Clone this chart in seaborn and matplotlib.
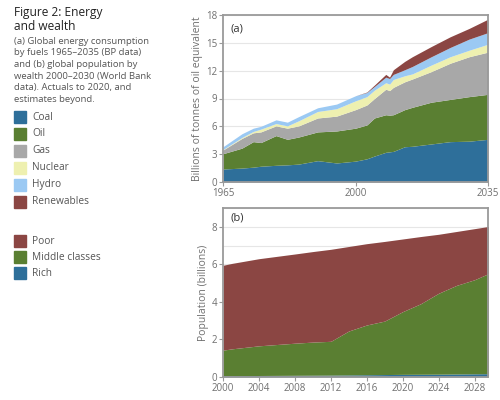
import numpy as np
import pandas as pd
import matplotlib
matplotlib.use('Agg')
import matplotlib.pyplot as plt
import seaborn as sns
from matplotlib.patches import Rectangle

sns.set_theme(style='white')
plt.rcParams['font.family'] = ['Open Sans', 'DejaVu Sans']

# (a) energy consumption by fuel, billions of tonnes of oil equivalent
years_a = [1965, 1970, 1973, 1975, 1979, 1982, 1985, 1990, 1995, 2000, 2003,
           2005, 2008, 2009, 2010, 2013, 2015, 2020, 2025, 2030, 2035]
coal = [1.4, 1.5, 1.6, 1.7, 1.8, 1.85, 1.93, 2.3, 2.05, 2.25, 2.5,
        2.8, 3.2, 3.25, 3.3, 3.8, 3.85, 4.1, 4.35, 4.4, 4.6]
oil = [1.65, 2.15, 2.75, 2.55, 3.2, 2.75, 2.92, 3.1, 3.45, 3.55, 3.65,
       4.1, 4.05, 3.95, 3.95, 4.0, 4.2, 4.5, 4.55, 4.8, 4.85]
gas = [0.4, 1.05, 0.95, 1.15, 1.05, 1.2, 1.2, 1.5, 1.6, 2.0, 2.15,
       2.1, 2.75, 2.65, 2.95, 3.0, 3.05, 3.3, 3.9, 4.3, 4.55]
nuclear = [0.05, 0.1, 0.15, 0.3, 0.25, 0.25, 0.55, 0.7, 0.8, 0.95, 0.9,
           0.9, 0.7, 0.7, 0.85, 0.65, 0.55, 0.7, 0.7, 0.7, 0.85]
hydro = [0.3, 0.4, 0.35, 0.3, 0.4, 0.4, 0.45, 0.4, 0.5, 0.55, 0.45,
         0.4, 0.6, 0.6, 0.55, 0.65, 0.8, 0.9, 1.0, 1.2, 1.25]
renewables = [0, 0, 0, 0, 0, 0, 0, 0, 0, 0, 0.05,
              0.15, 0.3, 0.15, 0.5, 0.9, 1.05, 1.1, 1.15, 1.15, 1.45]
fuels = ['Coal', 'Oil', 'Gas', 'Nuclear', 'Hydro', 'Renewables']
fuel_colors = ['#2e6f9a', '#5a7f32', '#a8a8a8', '#eef0b0', '#9bc9f3', '#8b4643']

# (b) population by wealth, billions
years_b = [2000, 2001, 2004, 2008, 2010, 2012, 2014, 2016, 2018, 2020, 2022,
           2024, 2026, 2028, 2030]
rich = [0.07, 0.07, 0.08, 0.09, 0.095, 0.1, 0.11, 0.12, 0.13, 0.14, 0.145,
        0.15, 0.16, 0.17, 0.18]
middle = [1.36, 1.43, 1.58, 1.71, 1.765, 1.8, 2.34, 2.65, 2.85, 3.34, 3.755,
          4.31, 4.72, 5.01, 5.42]
poor = [4.52, 4.55, 4.64, 4.75, 4.82, 4.9, 4.5, 4.33, 4.24, 3.87, 3.58,
        3.14, 2.87, 2.72, 2.45]
classes = ['Poor', 'Middle classes', 'Rich']
class_colors = ['#8b4643', '#5a7f32', '#2e6f9a']

df_a = pd.DataFrame({'Coal': coal, 'Oil': oil, 'Gas': gas, 'Nuclear': nuclear,
                     'Hydro': hydro, 'Renewables': renewables}, index=years_a)
df_b = pd.DataFrame({'Rich': rich, 'Middle classes': middle, 'Poor': poor},
                    index=years_b)

fig = plt.figure(figsize=(5, 4), dpi=100)
ax1 = fig.add_axes([0.446, 0.545, 0.53, 0.4175])
ax2 = fig.add_axes([0.446, 0.0575, 0.53, 0.4225])

grey = '#9a9a9a'
tick_col = '#6f6f6f'

ax1.stackplot(df_a.index, *[df_a[f] for f in fuels], colors=fuel_colors, lw=0)
ax1.set_xlim(1965, 2035)
ax1.set_ylim(0, 18)
ax1.set_yticks([0, 3, 6, 9, 12, 15, 18])
ax1.set_xticks([1965, 2000, 2035])
ax1.set_ylabel('Billions of tonnes of oil equivalent', color=tick_col, fontsize=7.5,
               labelpad=2)
ax1.text(0.03, 0.95, '(a)', transform=ax1.transAxes, fontsize=8, va='top',
         color='#333333')

ax2.stackplot(df_b.index, *[df_b[c] for c in ['Rich', 'Middle classes', 'Poor']],
              colors=class_colors[::-1], lw=0)
ax2.set_xlim(2000, 2029.5)
ax2.set_ylim(0, 9)
ax2.set_yticks([0, 2, 4, 6, 8])
ax2.set_yticks(range(0, 10), minor=True)
ax2.set_xticks(range(2000, 2029, 4))
ax2.set_ylabel('Population (billions)', color=tick_col, fontsize=7.5, labelpad=2)
ax2.text(0.03, 0.975, '(b)', transform=ax2.transAxes, fontsize=8, va='top',
         color='#333333')

for ax in (ax1, ax2):
    ax.set_axisbelow(True)
    ax.grid(axis='y', color='#e6e6e6', lw=0.8, which='both')
    for s in ax.spines.values():
        s.set_color(grey)
        s.set_linewidth(1.3)
    ax.tick_params(axis='both', colors=grey, labelcolor=tick_col, labelsize=7,
                   length=3, width=0.8, pad=1, which='major')
    ax.tick_params(axis='y', which='minor', length=0)
    ax.tick_params(axis='both', bottom=True, left=True)

# text panel on the left
fig.text(0.028, 0.985, 'Figure 2: Energy\nand wealth', fontsize=8.6,
         color='#222222', va='top', linespacing=1.15, fontweight='medium')
fig.text(0.028, 0.908, '(a) Global energy consumption\nby fuels 1965\u20132035 (BP data)\n'
         'and (b) global population by\nwealth 2000\u20132030 (World Bank\n'
         'data). Actuals to 2020, and\nestimates beyond.', fontsize=6.8,
         color='#555555', va='top', linespacing=1.38)


def legend_item(y, label, color):
    fig.patches.append(Rectangle((0.028, 1 - (y + 6) / 400), 0.024, 0.03,
                                 transform=fig.transFigure, color=color))
    fig.text(0.064, 1 - y / 400, label, fontsize=7.3, color='#555555', va='center')


for i, (f, c) in enumerate(zip(fuels, fuel_colors)):
    legend_item(117 + i * 17, f, c)
for i, (cl, c) in enumerate(zip(classes, class_colors)):
    legend_item(241 + i * 16, cl, c)

fig.savefig('out.png', dpi=100)
